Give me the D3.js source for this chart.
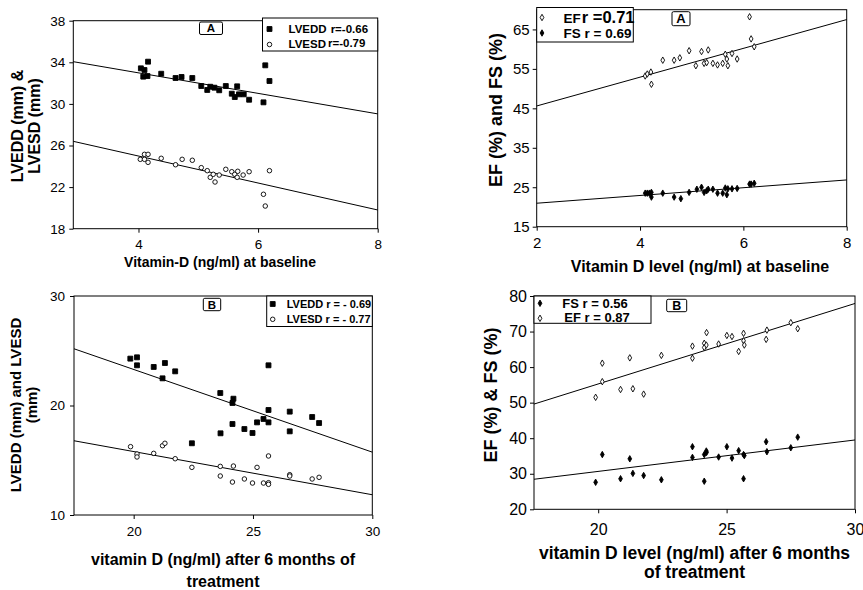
<!DOCTYPE html>
<html>
<head>
<meta charset="utf-8">
<title>Vitamin D vs echo parameters</title>
<script src="https://cdnjs.cloudflare.com/ajax/libs/d3/7.8.5/d3.min.js"></script>
<style>
 body { margin: 0; background: white; }
 text { font-family: "Liberation Sans", Arial, sans-serif; fill: black; }
 .title { font-weight: bold; }
 .legend text { font-weight: bold; }
 .frame { fill: none; stroke: black; stroke-width: 1px; }
 .fit { stroke: black; stroke-width: 1px; }
</style>
</head>
<body>
<svg id="viz" width="863" height="590"></svg>
<script>

// ---- panel A left: LVEDD / LVESD vs vitamin D at baseline
var p1EddX = [4.16,4.04,4.10,4.08,4.15,4.38,4.62,4.72,4.90,5.05,5.15,5.20,5.27,5.35,5.46,5.56,5.61,5.65,5.68,5.76,5.85,6.09,6.12,6.19];
var p1EddY = [34.06,33.42,33.26,32.62,32.68,32.90,32.49,32.59,32.49,31.72,31.34,31.65,31.56,31.31,31.72,30.98,30.66,31.69,30.92,30.92,30.40,30.15,33.71,32.20];
var p1EsdX = [4.10,4.16,4.03,4.10,4.16,4.38,4.62,4.73,4.90,5.05,5.15,5.20,5.25,5.28,5.35,5.46,5.56,5.61,5.65,5.66,5.75,5.85,6.09,6.12,6.19];
var p1EsdY = [25.15,25.15,24.67,24.67,24.38,24.77,24.15,24.67,24.58,23.87,23.58,22.94,23.23,22.49,23.16,23.71,23.48,23.23,22.94,23.52,23.16,23.48,21.31,20.18,23.58];
var p1EddFit = [[2.91,34.06],[8,29.04]];
var p1EsdFit = [[2.91,26.4],[8,19.8]];
var p1XTicks = [4,6,8];
var p1YTicks = [18,22,26,30,34,38];

// ---- panel A right: EF / FS vs vitamin D at baseline
var p2EfX = [4.10,4.14,4.21,4.22,4.44,4.66,4.77,4.95,5.08,5.19,5.24,5.29,5.32,5.41,5.50,5.60,5.65,5.68,5.70,5.78,5.88,6.12,6.15,6.21];
var p2EfY = [53.2,53.7,54.2,51.1,57.2,57.2,57.8,59.6,55.8,59.4,56.4,56.6,59.8,56.4,56.0,56.4,58.7,57.5,55.8,58.9,57.5,68.2,62.6,60.6];
var p2FsX = [4.10,4.14,4.18,4.22,4.22,4.44,4.66,4.79,4.95,5.10,5.19,5.24,5.29,5.32,5.41,5.50,5.60,5.65,5.68,5.70,5.78,5.88,6.12,6.15,6.21];
var p2FsY = [23.5,23.5,23.5,23.7,22.5,23.5,22.5,22.1,23.7,24.5,25.0,23.7,24.1,24.5,24.5,23.5,23.5,24.8,23.1,24.6,24.6,24.7,25.8,25.8,26.0];
var p2EfFit = [[2,45.6],[8,67.5]];
var p2FsFit = [[2,20.95],[8,26.85]];
var p2XTicks = [2,4,6,8];
var p2YTicks = [15,25,35,45,55,65];

// ---- panel B left: LVEDD / LVESD vs vitamin D after 6 months
var p3EddX = [19.86,20.14,20.14,20.84,21.31,21.21,21.74,22.44,23.63,23.64,24.14,24.18,24.14,24.64,24.98,25.17,25.44,25.65,25.65,25.65,26.54,26.54,27.48,27.77];
var p3EddY = [24.28,24.40,23.67,23.52,23.88,22.48,23.12,16.55,21.14,17.46,20.23,20.62,18.31,17.85,17.49,18.46,18.77,23.67,18.46,19.59,19.44,17.64,18.95,18.40];
var p3EsdX = [19.87,20.14,20.14,20.84,21.21,21.31,21.74,22.44,23.63,23.63,24.14,24.18,24.64,24.98,25.17,25.44,25.65,25.65,25.65,26.54,26.54,27.48,27.77];
var p3EsdY = [16.24,15.57,15.30,15.63,16.33,16.55,15.14,14.35,14.44,13.56,13.01,14.47,13.29,12.92,14.35,12.92,15.39,12.95,12.80,13.68,13.56,13.29,13.44];
var p3EddFit = [[17.5,25.18],[30,15.74]];
var p3EsdFit = [[17.5,16.78],[30,11.85]];
var p3XTicks = [20,25,30];
var p3YTicks = [10,20,30];

// ---- panel B right: EF / FS vs vitamin D after 6 months
var p4EfX = [19.90,20.16,20.16,20.87,21.23,21.35,21.77,22.46,23.67,23.67,24.13,24.13,24.21,24.22,24.69,25.01,25.21,25.47,25.66,25.66,25.69,26.57,26.54,27.50,27.77];
var p4EfY = [51.5,61.1,55.9,53.7,62.6,53.9,52.4,63.3,65.9,62.5,66.7,65.5,66.2,69.7,66.5,68.9,68.6,64.4,69.5,67.4,66.2,70.4,67.8,72.5,70.8];
var p4FsX = [19.90,20.16,20.87,21.23,21.35,21.77,22.46,23.67,23.67,24.13,24.13,24.21,24.22,24.69,25.01,25.21,25.47,25.66,25.69,25.66,26.54,26.57,27.50,27.77];
var p4FsY = [27.6,35.4,28.6,34.2,30.1,29.5,28.3,37.6,34.6,27.9,35.4,36.4,36.0,34.7,37.6,34.4,36.5,35.4,35.1,28.6,39.0,36.2,37.3,40.3];
var p4EfFit = [[17.5,49.6],[30,77.9]];
var p4FsFit = [[17.5,28.45],[30,39.5]];
var p4XTicks = [20,25,30];
var p4YTicks = [20,30,40,50,60,70,80];


var svg = d3.select("#viz");

function zip(xs, ys) {
    return xs.map(function(x,i) { return [x, ys[i]]; });
}

// marker styles
var solidSquare = { type: d3.symbolSquare, size: 24, fill: "black" };
var openCircle  = { type: d3.symbolCircle, size: 16, fill: "white" };
var solidDiamond = { type: d3.symbolDiamond, size: 12, fill: "black" };
var openDiamond  = { type: d3.symbolDiamond, size: 12, fill: "white" };

function drawPanel(p) {

    var x = d3.scaleLinear().domain(p.xDomain).range(p.xRange);
    var y = d3.scaleLinear().domain(p.yDomain).range(p.yRange);
    var g = svg.append("g");

    // axes
    g.append("g")
	.attr("transform","translate(0,"+p.yRange[0]+")")
	.call(d3.axisBottom(x).tickValues(p.xTicks).tickFormat(d3.format("d"))
	      .tickSize(4).tickSizeOuter(0).tickPadding(p.xPad))
	.call(function(a) {
	    a.select(".domain").remove();
	    a.selectAll("text").style("font-size",p.tickFont+"px");
	});

    g.append("g")
	.attr("transform","translate("+p.xRange[0]+",0)")
	.call(d3.axisLeft(y).tickValues(p.yTicks).tickFormat(d3.format("d"))
	      .tickSize(4).tickSizeOuter(0).tickPadding(p.yPad))
	.call(function(a) {
	    a.select(".domain").remove();
	    a.selectAll("text").style("font-size",p.tickFont+"px");
	});

    // box round the plot
    g.append("rect")
	.attr("class","frame")
	.attr("x",p.xRange[0])
	.attr("y",p.yRange[1])
	.attr("width",p.xRange[1]-p.xRange[0])
	.attr("height",p.yRange[0]-p.yRange[1]);

    // fit lines
    p.series.forEach(function(s) {
	g.append("line")
	    .attr("class","fit")
	    .attr("x1",x(s.fit[0][0])).attr("y1",y(s.fit[0][1]))
	    .attr("x2",x(s.fit[1][0])).attr("y2",y(s.fit[1][1]));
    });

    // points
    p.series.forEach(function(s) {
	g.selectAll(null)
	    .data(zip(s.xs, s.ys))
	    .enter().append("path")
	    .attr("d",d3.symbol().type(s.marker.type).size(s.marker.size))
	    .attr("transform",function(d) { return "translate("+x(d[0])+","+y(d[1])+")"; })
	    .attr("fill",s.marker.fill)
	    .attr("stroke","black")
	    .attr("stroke-width",0.9);
    });

    // legend
    var lg = g.append("g").attr("class","legend");
    lg.append("rect")
	.attr("x",p.legend.box[0]).attr("y",p.legend.box[1])
	.attr("width",p.legend.box[2]).attr("height",p.legend.box[3])
	.attr("fill","white").attr("stroke","black");
    p.series.forEach(function(s,i) {
	var row = p.legend.rows[i];
	lg.append("path")
	    .attr("d",d3.symbol().type(s.marker.type).size(s.marker.size))
	    .attr("transform","translate("+p.legend.markerX+","+row.my+")")
	    .attr("fill",s.marker.fill)
	    .attr("stroke","black")
	    .attr("stroke-width",0.9);
	var t = lg.append("text")
	    .attr("x",row.tx).attr("y",row.ty)
	    .style("font-size",p.legend.font+"px")
	    .style("text-anchor",row.anchor || "start");
	row.parts.forEach(function(part) {
	    var ts = t.append("tspan").text(part.text);
	    if (part.dx) ts.attr("dx",part.dx);
	    if (part.dy) ts.attr("dy",part.dy);
	    if (part.size) ts.style("font-size",part.size+"px");
	});
    });

    // panel letter
    var pl = p.letter;
    g.append("rect").attr("class","frame")
	.attr("x",pl.box[0]).attr("y",pl.box[1])
	.attr("width",pl.box[2]).attr("height",pl.box[3])
	.attr("rx",1.5);
    g.append("text").attr("class","title")
	.attr("x",pl.box[0]+pl.box[2]/2)
	.attr("y",pl.box[1]+pl.box[3]/2)
	.attr("dy","0.36em")
	.style("text-anchor","middle")
	.style("font-size",pl.font+"px")
	.text(pl.text);

    // x title
    p.xTitle.lines.forEach(function(line,i) {
	g.append("text").attr("class","title")
	    .attr("x",p.xTitle.cx)
	    .attr("y",p.xTitle.y[i])
	    .style("text-anchor","middle")
	    .style("font-size",p.xTitle.font+"px")
	    .text(line);
    });

    // y title
    p.yTitle.lines.forEach(function(line,i) {
	g.append("text").attr("class","title")
	    .attr("transform","translate("+p.yTitle.x[i]+","+p.yTitle.cy+") rotate(-90)")
	    .style("text-anchor","middle")
	    .style("font-size",p.yTitle.font+"px")
	    .text(line);
    });
}


drawPanel({
    xDomain:[2.91,8], xRange:[73.3,377.7],
    yDomain:[18,38], yRange:[228.7,20.7],
    xTicks:p1XTicks, yTicks:p1YTicks, tickFont:13.5, xPad:7, yPad:4,
    series:[
	{ xs:p1EddX, ys:p1EddY, fit:p1EddFit, marker:solidSquare },
	{ xs:p1EsdX, ys:p1EsdY, fit:p1EsdFit, marker:openCircle }
    ],
    legend:{ box:[262.5,18,115.2,33], markerX:269.5, font:11.5,
	     rows:[ { my:29, tx:288.5, ty:32.5, parts:[{text:"LVEDD"},{text:"r=-0.66",dx:4}] },
		    { my:44.5, tx:288.5, ty:48, parts:[{text:"LVESD"},{text:"r=-0.79",dx:2,dy:-1}] } ] },
    letter:{ box:[199.5,22,23,12.5], text:"A", font:11.5 },
    xTitle:{ lines:["Vitamin-D (ng/ml) at baseline"], cx:220, y:[267], font:14 },
    yTitle:{ lines:["LVEDD (mm) &","LVESD (mm)"], x:[23,40], cy:126, font:16 }
});

drawPanel({
    xDomain:[2,8], xRange:[536.7,846.7],
    yDomain:[15,70], yRange:[226.7,9.7],
    xTicks:p2XTicks, yTicks:p2YTicks, tickFont:15, xPad:7, yPad:3,
    series:[
	{ xs:p2EfX, ys:p2EfY, fit:p2EfFit, marker:openDiamond },
	{ xs:p2FsX, ys:p2FsY, fit:p2FsFit, marker:solidDiamond }
    ],
    legend:{ box:[536.7,7.5,96.6,34.5], markerX:542, font:13.5,
	     rows:[ { my:17.5, tx:563.5, ty:22.5, parts:[{text:"EF"},{text:"r =0.71",dx:1,size:16.5}] },
		    { my:33, tx:563.5, ty:38.3, parts:[{text:"FS r = 0.69"}] } ] },
    letter:{ box:[672,11.7,18,14], text:"A", font:13 },
    xTitle:{ lines:["Vitamin D level (ng/ml) at baseline"], cx:700, y:[272], font:16 },
    yTitle:{ lines:["EF (%) and FS (%)"], x:[502], cy:110, font:18 }
});

drawPanel({
    xDomain:[17.5,30], xRange:[74,372.3],
    yDomain:[10,30], yRange:[515,296],
    xTicks:p3XTicks, yTicks:p3YTicks, tickFont:13.5, xPad:7.5, yPad:5,
    series:[
	{ xs:p3EddX, ys:p3EddY, fit:p3EddFit, marker:solidSquare },
	{ xs:p3EsdX, ys:p3EsdY, fit:p3EsdFit, marker:openCircle }
    ],
    legend:{ box:[266.7,296,105.6,30.5], markerX:272.7, font:11,
	     rows:[ { my:304, tx:286.7, ty:308.3, parts:[{text:"LVEDD r = - 0.69"}] },
		    { my:319.3, tx:286.7, ty:323.3, parts:[{text:"LVESD r = - 0.77"}] } ] },
    letter:{ box:[203.3,298.3,17.4,12.4], text:"B", font:11.5 },
    xTitle:{ lines:["vitamin D (ng/ml) after 6 months of","treatment"], cx:223, y:[565,587], font:16 },
    yTitle:{ lines:["LVEDD (mm) and LVESD","(mm)"], x:[20.5,37], cy:405, font:15 }
});

drawPanel({
    xDomain:[17.5,30], xRange:[534,855],
    yDomain:[20,80], yRange:[509.3,296],
    xTicks:p4XTicks, yTicks:p4YTicks, tickFont:16, xPad:10, yPad:3,
    series:[
	{ xs:p4FsX, ys:p4FsY, fit:p4FsFit, marker:solidDiamond },
	{ xs:p4EfX, ys:p4EfY, fit:p4EfFit, marker:openDiamond }
    ],
    legend:{ box:[534,296,117,27.3], markerX:540, font:13,
	     rows:[ { my:303.3, tx:595, ty:308, anchor:"middle", parts:[{text:"FS r = 0.56"}] },
		    { my:318.3, tx:597, ty:322, anchor:"middle", parts:[{text:"EF r = 0.87"}] } ] },
    letter:{ box:[666.7,299.3,20,12.4], text:"B", font:12.5 },
    xTitle:{ lines:["vitamin D level (ng/ml) after 6 months","of treatment"], cx:694.5, y:[558.5,578], font:17.5 },
    yTitle:{ lines:["EF (%) & FS (%)"], x:[497], cy:395, font:18 }
});

</script>
</body>
</html>
